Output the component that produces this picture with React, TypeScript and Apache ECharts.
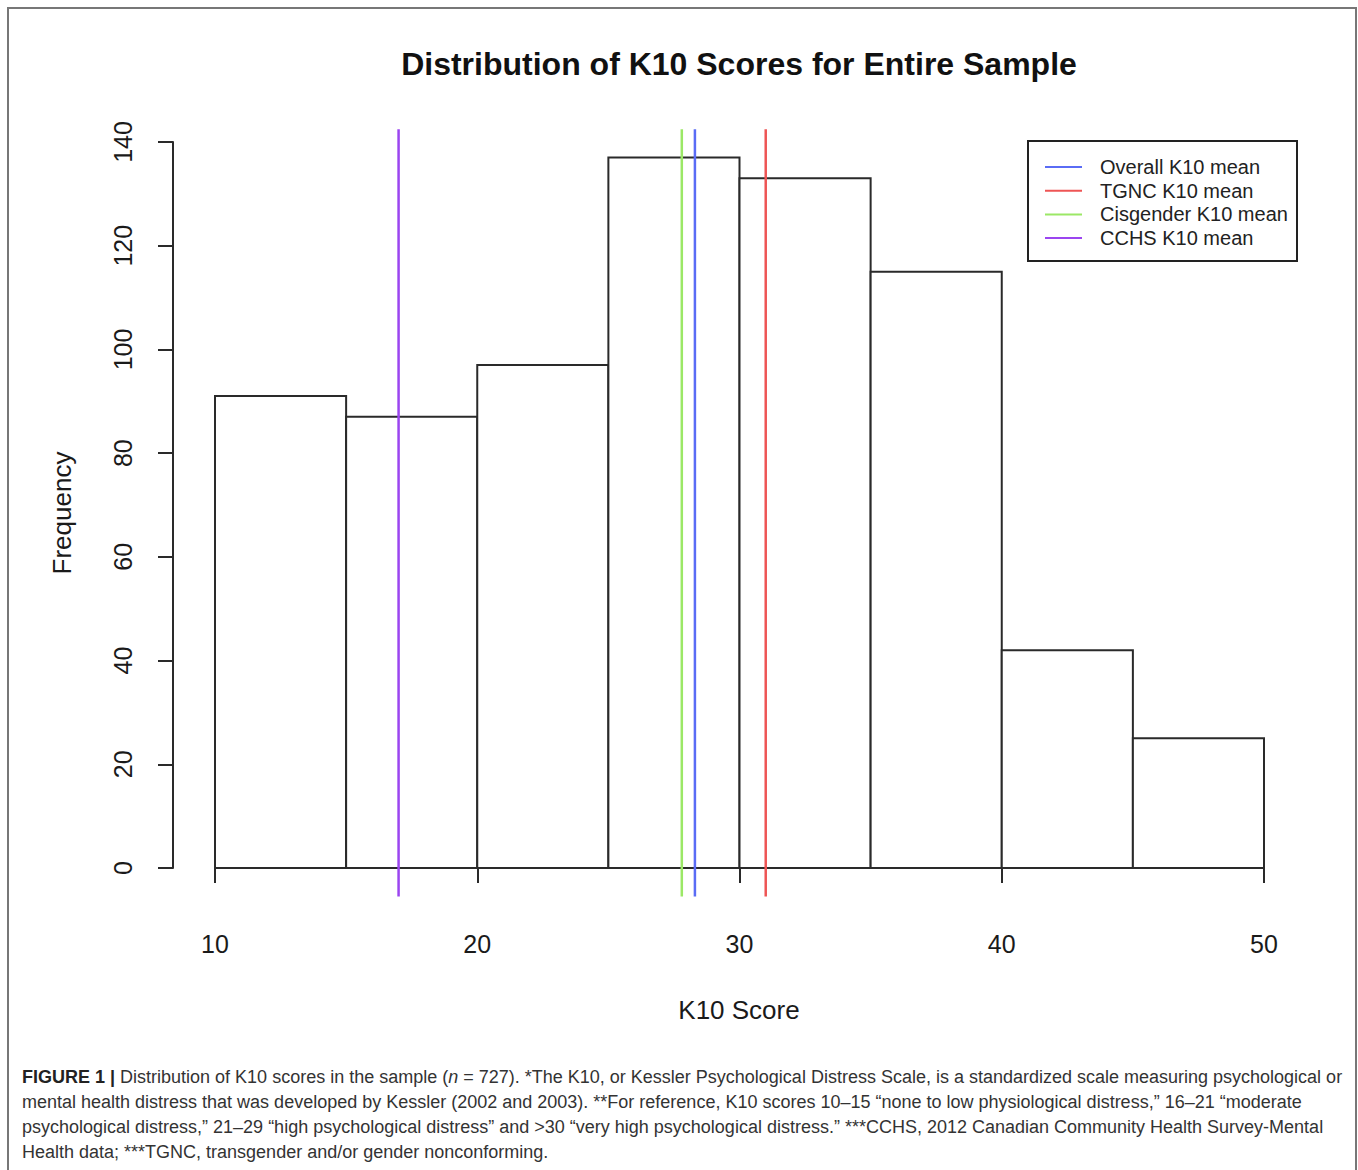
import React, { useEffect, useRef } from "react";
import * as echarts from "echarts";

const binStarts = [10, 15, 20, 25, 30, 35, 40, 45];
const binWidth = 5;
const counts = [91, 87, 97, 137, 133, 115, 42, 25];

const meanNames = ["Overall K10 mean", "TGNC K10 mean", "Cisgender K10 mean", "CCHS K10 mean"];
const meanValues = [28.3, 31.0, 27.8, 17.0];
const meanColors = ["#5a6cf5", "#ee5555", "#9be866", "#9b45f0"];

const xTicks = [10, 20, 30, 40, 50];
const yTicks = [0, 20, 40, 60, 80, 100, 120, 140];

const titleText = "Distribution of K10 Scores for Entire Sample";
const xName = "K10 Score";
const yName = "Frequency";

const captionLines = [
  "{b|FIGURE 1 |} Distribution of K10 scores in the sample ({i|n} = 727). *The K10, or Kessler Psychological Distress Scale, is a standardized scale measuring psychological or",
  "mental health distress that was developed by Kessler (2002 and 2003). **For reference, K10 scores 10–15 “none to low physiological distress,” 16–21 “moderate",
  "psychological distress,” 21–29 “high psychological distress” and >30 “very high psychological distress.” ***CCHS, 2012 Canadian Community Health Survey-Mental",
  "Health data; ***TGNC, transgender and/or gender nonconforming.",
];

export default function App() {
  const ref = useRef<HTMLDivElement>(null);
  useEffect(() => {
    const chart = echarts.init(ref.current!, null, { renderer: "svg" });
    const yLo = yTicks[0] - 0.04 * (Math.max(...counts) - yTicks[0]);
    const yHi = Math.max(...counts) + 0.04 * (Math.max(...counts) - yTicks[0]);

    const legendGraphics: any[] = [
      {
        type: "rect",
        shape: { x: 1028, y: 141, width: 269, height: 120 },
        style: { fill: "#fff", stroke: "#222", lineWidth: 2 },
        z: 100,
      },
    ];
    meanNames.forEach((n, i) => {
      const y = 167 + i * 23.7;
      legendGraphics.push({
        type: "line",
        shape: { x1: 1045, y1: y, x2: 1082, y2: y },
        style: { stroke: meanColors[i], lineWidth: 2 },
        z: 101,
      });
      legendGraphics.push({
        type: "text",
        x: 1100,
        y: y,
        style: {
          text: n,
          font: "20px 'Liberation Sans', Arial, sans-serif",
          fill: "#222",
          textAlign: "left",
          textVerticalAlign: "middle",
        },
        z: 101,
      });
    });

    chart.setOption({
      animation: false,
      backgroundColor: "#fff",
      grid: { left: 215, right: 94, top: 142, bottom: 302 },
      xAxis: {
        type: "value",
        min: xTicks[0],
        max: xTicks[xTicks.length - 1],
        interval: 10,
        offset: 29,
        axisLine: { show: true, lineStyle: { color: "#2a2a2a", width: 2 } },
        axisTick: { show: true, length: 15, lineStyle: { color: "#2a2a2a", width: 2 } },
        axisLabel: {
          margin: 34,
          fontSize: 25,
          color: "#1a1a1a",
          fontFamily: "'Liberation Sans', Arial, sans-serif",
        },
        splitLine: { show: false },
      },
      yAxis: {
        type: "value",
        min: yTicks[0],
        max: yTicks[yTicks.length - 1],
        interval: 20,
        offset: 42,
        axisLine: { show: true, lineStyle: { color: "#2a2a2a", width: 2 } },
        axisTick: { show: true, length: 15, lineStyle: { color: "#2a2a2a", width: 2 } },
        axisLabel: {
          margin: 38,
          rotate: 90,
          fontSize: 25,
          color: "#1a1a1a",
          fontFamily: "'Liberation Sans', Arial, sans-serif",
        },
        splitLine: { show: false },
      },
      series: [
        {
          type: "custom",
          clip: false,
          data: binStarts.map((s, i) => [s, s + binWidth, counts[i]]),
          renderItem: (params: any, api: any) => {
            const p0 = api.coord([api.value(0), 0]);
            const p1 = api.coord([api.value(1), api.value(2)]);
            return {
              type: "rect",
              shape: { x: p0[0], y: p1[1], width: p1[0] - p0[0], height: p0[1] - p1[1] },
              style: { fill: "#fff", stroke: "#2a2a2a", lineWidth: 2 },
            };
          },
          z: 2,
        },
        {
          type: "custom",
          clip: false,
          data: meanValues.map((v, i) => [v, i]),
          renderItem: (params: any, api: any) => {
            const a = api.coord([api.value(0), yLo]);
            const b = api.coord([api.value(0), yHi]);
            return {
              type: "line",
              shape: { x1: a[0], y1: a[1], x2: b[0], y2: b[1] },
              style: { stroke: meanColors[api.value(1)], lineWidth: 2.5 },
            };
          },
          z: 3,
        },
      ],
      graphic: [
        {
          type: "rect",
          shape: { x: 8, y: 8, width: 1348, height: 1200 },
          style: { fill: "none", stroke: "#777", lineWidth: 2 },
          silent: true,
        },
        {
          type: "text",
          x: 739,
          y: 64,
          style: {
            text: titleText,
            font: "bold 32px 'Liberation Sans', Arial, sans-serif",
            fill: "#111",
            textAlign: "center",
            textVerticalAlign: "middle",
          },
        },
        {
          type: "text",
          x: 739,
          y: 1010,
          style: {
            text: xName,
            font: "26px 'Liberation Sans', Arial, sans-serif",
            fill: "#1a1a1a",
            textAlign: "center",
            textVerticalAlign: "middle",
          },
        },
        {
          type: "text",
          x: 62,
          y: 513,
          rotation: Math.PI / 2,
          style: {
            text: yName,
            font: "26px 'Liberation Sans', Arial, sans-serif",
            fill: "#1a1a1a",
            textAlign: "center",
            textVerticalAlign: "middle",
          },
        },
        ...legendGraphics,
        {
          type: "text",
          x: 22,
          y: 1064,
          style: {
            text: captionLines.join("\n"),
            fontFamily: "'Liberation Sans Narrow', 'Liberation Sans', Arial, sans-serif",
            fontSize: 18,
            lineHeight: 25,
            fill: "#333",
            textAlign: "left",
            textVerticalAlign: "top",
            rich: {
              b: {
                fontWeight: "bold",
                fontFamily: "'Liberation Sans Narrow', 'Liberation Sans', Arial, sans-serif",
                fontSize: 18,
                lineHeight: 25,
                fill: "#222",
              },
              i: {
                fontStyle: "italic",
                fontFamily: "'Liberation Sans Narrow', 'Liberation Sans', Arial, sans-serif",
                fontSize: 18,
                lineHeight: 25,
                fill: "#333",
              },
            },
          },
        },
      ],
    });
    return () => chart.dispose();
  }, []);
  return (
    <div
      ref={ref}
      style={{ position: "absolute", left: 0, top: 0, width: 1358, height: 1170 }}
    />
  );
}
